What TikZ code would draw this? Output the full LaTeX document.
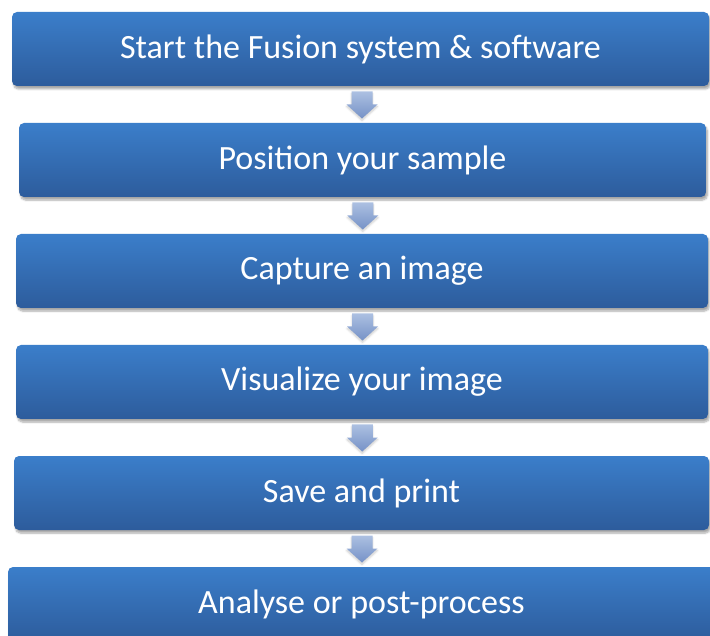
\documentclass[tikz,border=0pt]{standalone}
\usepackage{fontspec}
\setmainfont{Carlito}
\usetikzlibrary{shadows.blur,calc}
\definecolor{boxT}{RGB}{59,126,202}
\definecolor{boxB}{RGB}{45,92,156}
\definecolor{arrT}{RGB}{172,192,226}
\definecolor{arrB}{RGB}{118,146,199}
\newcommand{\BH}{74}

\begin{document}
\begin{tikzpicture}[x=1pt, y=-1pt,
    stepbox/.style={rectangle, rounded corners=5pt, minimum height=\BH pt, inner sep=0pt,
      top color=boxT, bottom color=boxB, draw=none, text=white,
      font=\fontsize{34}{40}\selectfont,
      blur shadow={shadow xshift=1.5pt, shadow yshift=-3pt, shadow blur steps=6, shadow opacity=35}},
    down/.style={top color=arrT, bottom color=arrB, draw=none,
      blur shadow={shadow xshift=0pt, shadow yshift=-2pt, shadow blur steps=5, shadow opacity=20}},
  ]
  \useasboundingbox (0,0) rectangle (710,636);

  % the six steps, top to bottom
  \foreach \n/\x/\y/\w/\t in {
      1/360.5/49/697/{Start the Fusion system \& software},
      2/362.5/160/687/{Position your sample},
      3/362/271/692/{Capture an image},
      4/362/382/692/{Visualize your image},
      5/361.5/493/695/{Save and print},
      6/361.5/604/707/{Analyse or post-process}} {
    \node[stepbox, minimum width=\w pt] (s\n) at (\x,\y) {\t};
  }

  % block arrows between consecutive steps
  \foreach \i in {1,...,5} {
    \pgfmathtruncatemacro{\j}{\i+1}
    \coordinate (a\i) at ($(s\i.south)!0.5!(s\j.north)+(0.5,0.5)$);
    \shade[down] (a\i) +(-10.5,-13.5) -- +(10.5,-13.5) -- +(10.5,-0.5) -- +(15.5,-0.5)
      -- +(0,13.5) -- +(-15.5,-0.5) -- +(-10.5,-0.5) -- cycle;
  }

\end{tikzpicture}
\end{document}
